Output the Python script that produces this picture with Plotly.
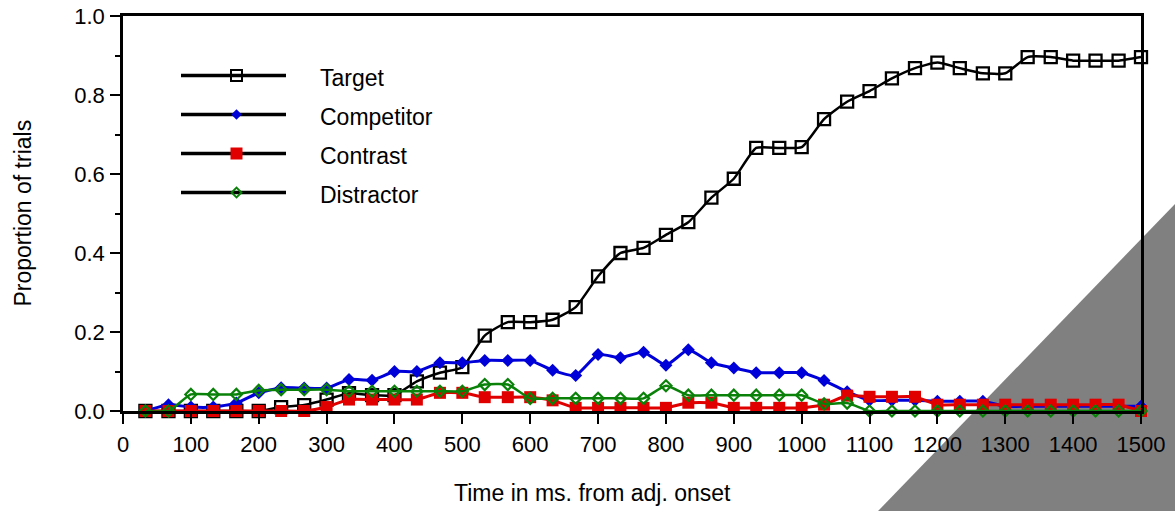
import plotly.graph_objects as go

# ---------------- data ----------------
time_ms = [33, 67, 100, 133, 167, 200, 233, 267, 300, 333, 367, 400, 433, 467, 500,
           533, 567, 600, 633, 667, 700, 733, 767, 800, 833, 867, 900, 933, 967, 1000,
           1033, 1067, 1100, 1133, 1167, 1200, 1233, 1267, 1300, 1333, 1367, 1400, 1433, 1467, 1500]

target = [0.0, 0.0, 0.0, 0.0, 0.0, 0.0, 0.01, 0.015, 0.029, 0.045, 0.04, 0.04, 0.075, 0.097, 0.111,
          0.191, 0.225, 0.225, 0.231, 0.263, 0.341, 0.40, 0.413, 0.446, 0.478, 0.54, 0.588, 0.666, 0.666, 0.668,
          0.739, 0.783, 0.81, 0.842, 0.868, 0.882, 0.868, 0.855, 0.855, 0.896, 0.896, 0.887, 0.887, 0.887, 0.896]

competitor = [0.0, 0.016, 0.01, 0.01, 0.02, 0.046, 0.059, 0.058, 0.058, 0.08, 0.078, 0.10, 0.10, 0.122, 0.122,
              0.128, 0.128, 0.128, 0.103, 0.09, 0.143, 0.135, 0.149, 0.116, 0.155, 0.122, 0.109, 0.097, 0.097, 0.097,
              0.077, 0.049, 0.027, 0.027, 0.027, 0.025, 0.025, 0.025, 0.012, 0.012, 0.012, 0.012, 0.012, 0.012, 0.012]

contrast = [0.0, 0.0, 0.0, 0.0, 0.0, 0.0, 0.0, 0.0, 0.01, 0.029, 0.029, 0.029, 0.029, 0.046, 0.046,
            0.035, 0.035, 0.035, 0.027, 0.008, 0.008, 0.008, 0.008, 0.008, 0.021, 0.021, 0.008, 0.008, 0.008, 0.008,
            0.016, 0.039, 0.036, 0.036, 0.036, 0.016, 0.016, 0.016, 0.016, 0.016, 0.016, 0.016, 0.016, 0.016, 0.0]

distractor = [0.0, 0.0, 0.042, 0.042, 0.042, 0.052, 0.054, 0.054, 0.054, 0.05, 0.05, 0.05, 0.05, 0.05, 0.05,
              0.067, 0.067, 0.032, 0.032, 0.032, 0.032, 0.032, 0.032, 0.064, 0.04, 0.04, 0.04, 0.04, 0.04, 0.04,
              0.018, 0.02, 0.0, 0.0, 0.0, 0.0, 0.0, 0.0, 0.0, 0.0, 0.0, 0.0, 0.0, 0.0, 0.0]

series_names = ["Target", "Competitor", "Contrast", "Distractor"]
x_ticks = [0, 100, 200, 300, 400, 500, 600, 700, 800, 900, 1000, 1100, 1200, 1300, 1400, 1500]
y_ticks = [0.0, 0.2, 0.4, 0.6, 0.8, 1.0]

# ---------------- styling ----------------
FONT = "Liberation Sans, Arial, Helvetica, sans-serif"
W, H = 1175, 511
ML, MR, MT, MB = 123, 34, 16, 100
PW, PH = W - ML - MR, H - MT - MB

BLUE = "#0000d8"
RED = "#e00000"
GREEN = "#0a820a"

styles = {
    "Target": dict(line=dict(color="black", width=2.5),
                   marker=dict(symbol="square-open", size=12, color="black", line=dict(width=2.3, color="black"))),
    "Competitor": dict(line=dict(color=BLUE, width=3),
                       marker=dict(symbol="diamond", size=10, color=BLUE, line=dict(width=0, color=BLUE))),
    "Contrast": dict(line=dict(color=RED, width=3),
                     marker=dict(symbol="square", size=12, color=RED, line=dict(width=0, color=RED))),
    "Distractor": dict(line=dict(color=GREEN, width=2.5),
                       marker=dict(symbol="diamond-open", size=8.5, color=GREEN, line=dict(width=2.2, color=GREEN))),
}
legend_marker = {
    "Target": dict(symbol="square-open", size=11, color="black", line=dict(width=2, color="black")),
    "Competitor": dict(symbol="diamond", size=8, color=BLUE, line=dict(width=0, color=BLUE)),
    "Contrast": dict(symbol="square", size=12, color=RED, line=dict(width=0, color=RED)),
    "Distractor": dict(symbol="diamond-open", size=7.5, color=GREEN, line=dict(width=2, color=GREEN)),
}

values = {"Target": target, "Competitor": competitor, "Contrast": contrast, "Distractor": distractor}

fig = go.Figure()
for name in series_names:
    st = styles[name]
    fig.add_trace(go.Scatter(
        x=time_ms, y=values[name], name=name, mode="lines+markers",
        line=dict(color=st["line"]["color"], width=st["line"]["width"], shape="spline", smoothing=0.5),
        marker=st["marker"], cliponaxis=False, showlegend=False,
    ))

# ---------------- hand-drawn legend (long black lines, coloured markers) ----------------
def px_to_fx(px):
    return (px - ML) / PW

def py_to_fy(py):
    return (MT + PH - py) / PH

leg_x0, leg_x1, leg_xm, leg_text = px_to_fx(181), px_to_fx(286), px_to_fx(236.5), px_to_fx(318)
leg_rows_px = [75.5, 114.5, 153.5, 192.5]

for name, rpy in zip(series_names, leg_rows_px):
    ry = py_to_fy(rpy)
    fig.add_trace(go.Scatter(x=[leg_x0, leg_x1], y=[ry, ry], mode="lines",
                             line=dict(color="black", width=3.5), xaxis="x2", yaxis="y2",
                             showlegend=False, hoverinfo="skip"))
    fig.add_trace(go.Scatter(x=[leg_xm], y=[ry], mode="markers", marker=legend_marker[name],
                             xaxis="x2", yaxis="y2", showlegend=False, hoverinfo="skip"))
    fig.add_annotation(x=leg_text, y=py_to_fy(rpy + 2), xref="paper", yref="paper", text=name, showarrow=False,
                       xanchor="left", yanchor="middle", font=dict(family=FONT, size=23, color="black"))

# axis titles
fig.add_annotation(x=px_to_fx(592), y=py_to_fy(493), xref="paper", yref="paper",
                   text="Time in ms. from adj. onset", showarrow=False, xanchor="center", yanchor="middle",
                   font=dict(family=FONT, size=23, color="black"))
fig.add_annotation(x=px_to_fx(22), y=0.5, xref="paper", yref="paper", text="Proportion of trials",
                   showarrow=False, textangle=-90, xanchor="center", yanchor="middle",
                   font=dict(family=FONT, size=23, color="black"))

# grey page-corner overlay seen in the reference (drawn beneath data and axes)
corner = [(1175, 204), (1175, 511), (878, 511)]
path = "M " + " L ".join(f"{px_to_fx(a):.4f},{py_to_fy(b):.4f}" for a, b in corner) + " Z"
fig.add_shape(type="path", path=path, xref="paper", yref="paper", layer="below",
              fillcolor="#808080", line=dict(width=0))

fig.update_layout(
    width=W, height=H, margin=dict(l=ML, r=MR, t=MT, b=MB, pad=0, autoexpand=False),
    paper_bgcolor="white", plot_bgcolor="rgba(0,0,0,0)", showlegend=False,
    font=dict(family=FONT, size=22, color="black"),
    xaxis=dict(range=[0, 1500], tickvals=x_ticks, ticktext=[str(v) for v in x_ticks],
               showgrid=False, zeroline=False, showline=True, linecolor="black", linewidth=2.5,
               mirror=True, ticks="outside", ticklen=10, tickwidth=2, tickcolor="black",
               tickfont=dict(family=FONT, size=22), ticklabelstandoff=2, automargin=False),
    yaxis=dict(range=[0, 1], tickvals=y_ticks, ticktext=[f"{v:.1f}" for v in y_ticks],
               showgrid=False, zeroline=False, showline=True, linecolor="black", linewidth=2.5,
               mirror=True, ticks="outside", ticklen=10, tickwidth=2, tickcolor="black",
               tickfont=dict(family=FONT, size=22), ticklabelstandoff=1, automargin=False,
               minor=dict(tickvals=[0.1, 0.3, 0.5, 0.7, 0.9], ticks="outside", ticklen=5,
                          tickwidth=2, tickcolor="black", showgrid=False)),
    xaxis2=dict(range=[0, 1], overlaying="x", anchor="y2", visible=False, fixedrange=True),
    yaxis2=dict(range=[0, 1], overlaying="y", anchor="x2", visible=False, fixedrange=True),
)

fig.write_html("out.html")
